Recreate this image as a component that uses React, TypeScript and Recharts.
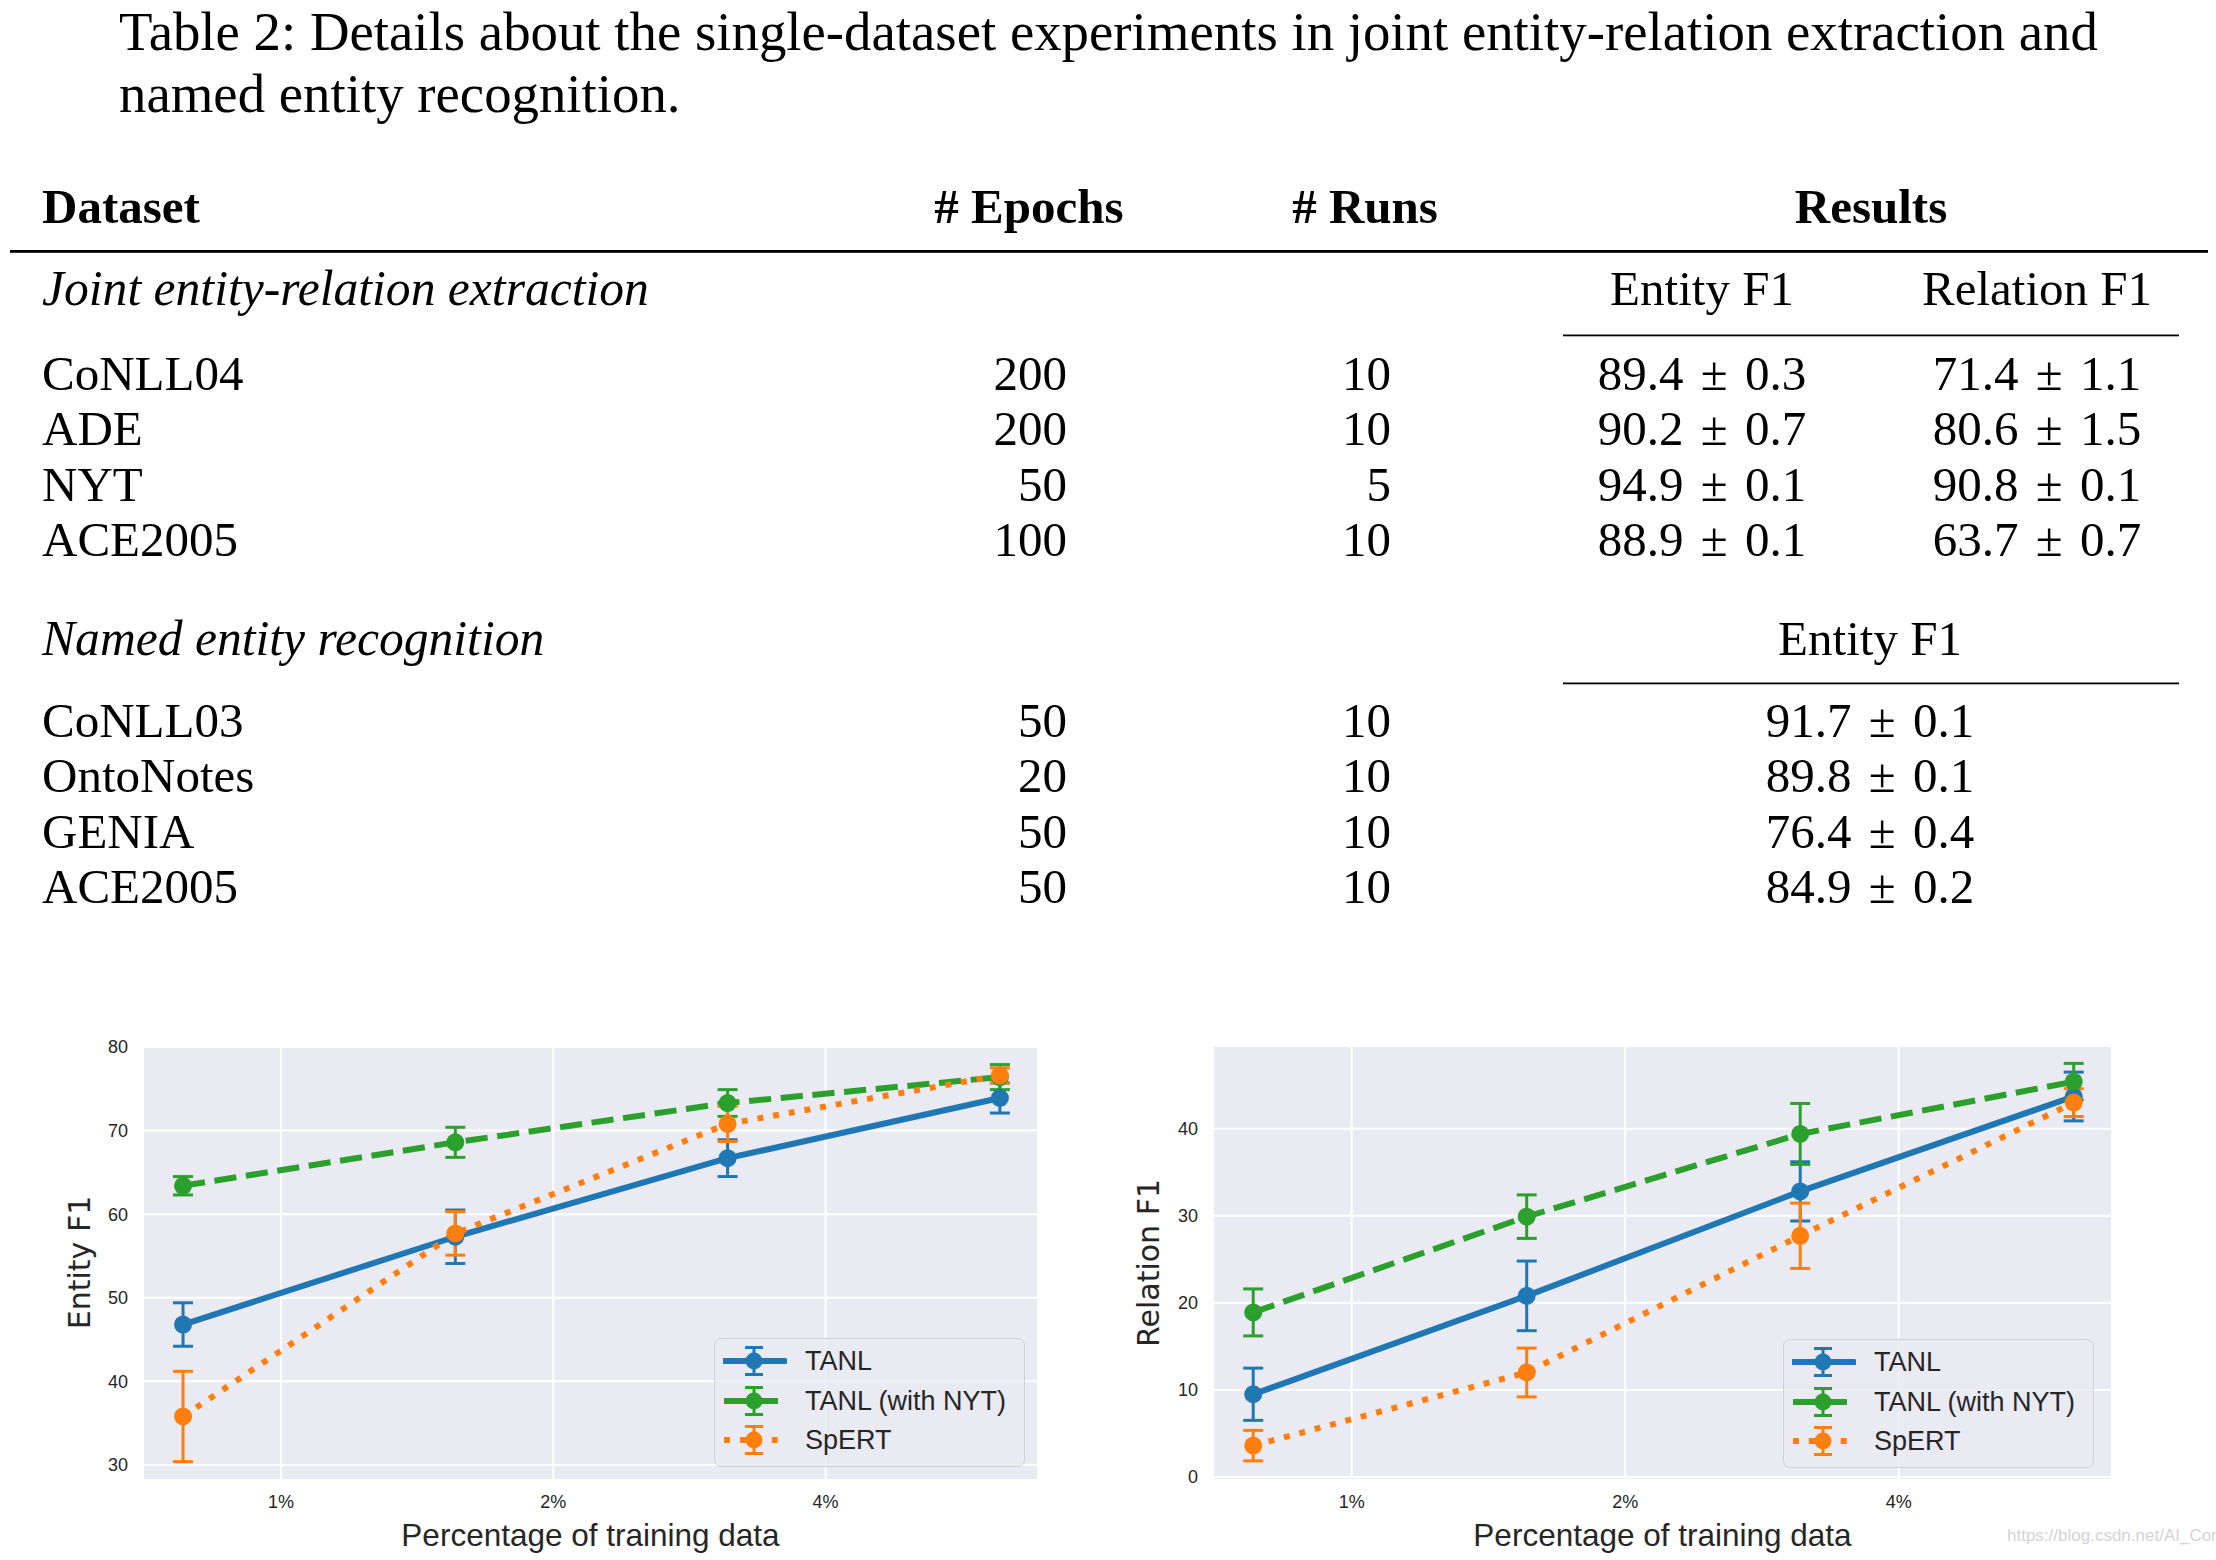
import React from 'react';
import { LineChart, Line, XAxis, YAxis, CartesianGrid, ErrorBar, Legend, Label } from 'recharts';

// ---------- table data ----------
const captionLines = [
  'Table 2: Details about the single-dataset experiments in joint entity-relation extraction and',
  'named entity recognition.',
];
const headerCols = ['Dataset', '# Epochs', '# Runs', 'Results'];
const jointTitle = 'Joint entity-relation extraction';
const jointMetricNames = ['Entity F1', 'Relation F1'];
const jointDatasets = ['CoNLL04', 'ADE', 'NYT', 'ACE2005'];
const jointEpochs = [200, 200, 50, 100];
const jointRuns = [10, 10, 5, 10];
const jointEntityF1 = ['89.4 ± 0.3', '90.2 ± 0.7', '94.9 ± 0.1', '88.9 ± 0.1'];
const jointRelationF1 = ['71.4 ± 1.1', '80.6 ± 1.5', '90.8 ± 0.1', '63.7 ± 0.7'];
const nerTitle = 'Named entity recognition';
const nerMetricName = 'Entity F1';
const nerDatasets = ['CoNLL03', 'OntoNotes', 'GENIA', 'ACE2005'];
const nerEpochs = [50, 20, 50, 50];
const nerRuns = [10, 10, 10, 10];
const nerEntityF1 = ['91.7 ± 0.1', '89.8 ± 0.1', '76.4 ± 0.4', '84.9 ± 0.2'];

// ---------- chart data ----------
const pointIndex = [0, 1, 2, 3];
const xTickPositions = [0.36, 1.36, 2.36];
const xTickLabels = ['1%', '2%', '4%'];

const seriesNames = ['TANL', 'TANL (with NYT)', 'SpERT'];
const seriesKeys = ['tanl', 'nyt', 'spert'];

const entityTanl = [46.8, 57.3, 66.7, 73.9];
const entityTanlErr = [2.6, 3.2, 2.2, 1.8];
const entityNyt = [63.4, 68.6, 73.3, 76.4];
const entityNytErr = [1.1, 1.8, 1.6, 1.5];
const entitySpert = [35.8, 57.7, 70.8, 76.6];
const entitySpertErr = [5.4, 2.6, 2.1, 0.9];
const entityTicks = [30, 40, 50, 60, 70, 80];

const relationTanl = [9.5, 20.8, 32.8, 43.7];
const relationTanlErr = [3.0, 4.0, 3.4, 2.8];
const relationNyt = [18.9, 29.9, 39.4, 45.4];
const relationNytErr = [2.7, 2.5, 3.5, 2.1];
const relationSpert = [3.6, 12.0, 27.7, 43.0];
const relationSpertErr = [1.75, 2.8, 3.75, 1.6];
const relationTicks = [0, 10, 20, 30, 40];

const watermark = 'https://blog.csdn.net/AI_Conf';

// ---------- styles ----------
const COLORS = ['#1f77b4', '#2ca02c', '#ff7f0e'];
const DASHES = [undefined, '22.2 9.6', '6 9.9'];
const TEXT = '#262626';
const SERIF = '"Liberation Serif", "Times New Roman", serif';
const SANS = '"Liberation Sans", Arial, sans-serif';

function buildRows(a: number[], ae: number[], b: number[], be: number[], c: number[], ce: number[]) {
  return pointIndex.map((x, i) => ({
    x,
    tanl: a[i], tanlErr: ae[i],
    nyt: b[i], nytErr: be[i],
    spert: c[i], spertErr: ce[i],
  }));
}

const entityRows = buildRows(entityTanl, entityTanlErr, entityNyt, entityNytErr, entitySpert, entitySpertErr);
const relationRows = buildRows(relationTanl, relationTanlErr, relationNyt, relationNytErr, relationSpert, relationSpertErr);

function LegendBox() {
  return (
    <div
      style={{
        width: 311,
        height: 129,
        boxSizing: 'border-box',
        border: '1.5px solid #cfcfd6',
        borderRadius: 7,
        background: 'rgba(234,234,242,0.8)',
        position: 'relative',
        fontFamily: SANS,
      }}
    >
      {seriesNames.map((name, i) => (
        <div key={name} style={{ position: 'absolute', left: 8, top: 22 + i * 39.5 - 18, height: 36, display: 'flex', alignItems: 'center' }}>
          <svg width={64} height={36} style={{ display: 'block' }}>
            <line x1={1} y1={18} x2={62} y2={18} stroke={COLORS[i]} strokeWidth={6}
              strokeDasharray={DASHES[i]} strokeLinecap={i === 0 ? 'round' : 'butt'} />
            <line x1={31} y1={4.5} x2={31} y2={31.5} stroke={COLORS[i]} strokeWidth={3} />
            <line x1={22} y1={4.5} x2={40} y2={4.5} stroke={COLORS[i]} strokeWidth={3} />
            <line x1={22} y1={31.5} x2={40} y2={31.5} stroke={COLORS[i]} strokeWidth={3} />
            <circle cx={31} cy={18} r={8.5} fill={COLORS[i]} />
          </svg>
          <span style={{ marginLeft: 18, fontSize: 27, color: TEXT, lineHeight: '36px', whiteSpace: 'nowrap' }}>{name}</span>
        </div>
      ))}
    </div>
  );
}

type ChartProps = {
  rows: any[];
  left: number;
  top: number;
  width: number;
  height: number;
  margin: { top: number; right: number; bottom: number; left: number };
  yDomain: [number, number];
  yTicks: number[];
  yLabel: string;
  yLabelX: number;
  legendLeft: number;
  legendTop: number;
};

function ErrorChart(p: ChartProps) {
  return (
    <div style={{ position: 'absolute', left: p.left, top: p.top }}>
      <LineChart width={p.width} height={p.height} data={p.rows} margin={p.margin}>
        <CartesianGrid stroke="#ffffff" strokeWidth={2} fill="#eaeaf2" />
        <XAxis
          type="number"
          dataKey="x"
          domain={[-0.147, 3.14]}
          allowDataOverflow
          ticks={xTickPositions}
          tickFormatter={(v: number) => xTickLabels[xTickPositions.indexOf(v)] ?? ''}
          axisLine={false}
          tickLine={false}
          tickMargin={9}
          height={60}
          tick={{ fontSize: 18, fill: TEXT, fontFamily: SANS }}
        >
          <Label
            content={(props: any) => {
              const vb = props.viewBox;
              return (
                <text x={vb.x + vb.width / 2} y={vb.y + 66} textAnchor="middle" fontSize={31.5}
                  fontFamily={SANS} fill={TEXT}>
                  Percentage of training data
                </text>
              );
            }}
          />
        </XAxis>
        <YAxis
          type="number"
          domain={p.yDomain}
          allowDataOverflow
          ticks={p.yTicks}
          axisLine={false}
          tickLine={false}
          tickMargin={9}
          width={60}
          tick={{ fontSize: 18, fill: TEXT, fontFamily: SANS }}
        >
          <Label
            content={(props: any) => {
              const vb = props.viewBox;
              const cy = vb.y + vb.height / 2;
              return (
                <text x={p.yLabelX} y={cy} textAnchor="middle" dominantBaseline="central" fontSize={30}
                  fontFamily='"DejaVu Sans", sans-serif' fill={TEXT}
                  transform={`rotate(-90 ${p.yLabelX} ${cy})`}>
                  {p.yLabel}
                </text>
              );
            }}
          />
        </YAxis>
        <Legend
          layout="horizontal"
          verticalAlign="middle"
          align="center"
          wrapperStyle={{ position: 'absolute', left: p.legendLeft, top: p.legendTop, width: 'auto', height: 'auto' }}
          content={() => <LegendBox />}
        />
        {seriesKeys.map((k, i) => (
          <Line
            key={k}
            type="linear"
            dataKey={k}
            name={seriesNames[i]}
            stroke={COLORS[i]}
            strokeWidth={6}
            strokeDasharray={DASHES[i]}
            strokeLinecap={i === 0 ? 'round' : 'butt'}
            dot={{ r: 9, fill: COLORS[i], stroke: 'none', strokeWidth: 0 }}
            activeDot={false}
            isAnimationActive={false}
          >
            <ErrorBar dataKey={`${k}Err`} width={10} strokeWidth={3} stroke={COLORS[i]} direction="y" />
          </Line>
        ))}
      </LineChart>
    </div>
  );
}

// value "a ± b" rendered with math-like wider spacing around ±
function PM({ x, y, value }: { x: number; y: number; value: string }) {
  const [a, b] = value.split(' ± ');
  return (
    <text x={x} y={y} textAnchor="middle">
      {a + ' '}
      <tspan dx={5}>±</tspan>
      <tspan dx={5}>{' ' + b}</tspan>
    </text>
  );
}

function Table() {
  const jointBase = 389.5;
  const nerBase = 736.5;
  const step = 55.6;
  return (
    <svg width={2216} height={960} style={{ position: 'absolute', left: 0, top: 0 }}>
      <g fontFamily={SERIF} fill="#000">
        {captionLines.map((t, i) => (
          <text key={i} x={119} y={50 + i * 62} fontSize={54.8}>{t}</text>
        ))}
        <g fontWeight="bold" fontSize={49}>
          <text x={42} y={223}>{headerCols[0]}</text>
          <text x={1029} y={223} textAnchor="middle">{headerCols[1]}</text>
          <text x={1365} y={223} textAnchor="middle">{headerCols[2]}</text>
          <text x={1871} y={223} textAnchor="middle">{headerCols[3]}</text>
        </g>
        <rect x={10} y={250} width={2198} height={2.8} fill="#000" />
        <g fontSize={49}>
          <text x={42} y={305} fontStyle="italic" fontSize={49.6}>{jointTitle}</text>
          <text x={1702} y={305} textAnchor="middle">{jointMetricNames[0]}</text>
          <text x={2037} y={305} textAnchor="middle">{jointMetricNames[1]}</text>
          <rect x={1563} y={334.5} width={616} height={1.8} fill="#000" />
          {jointDatasets.map((d, i) => (
            <g key={d + i}>
              <text x={42} y={jointBase + i * step}>{d}</text>
              <text x={1067} y={jointBase + i * step} textAnchor="end">{jointEpochs[i]}</text>
              <text x={1391} y={jointBase + i * step} textAnchor="end">{jointRuns[i]}</text>
              <PM x={1702} y={jointBase + i * step} value={jointEntityF1[i]} />
              <PM x={2037} y={jointBase + i * step} value={jointRelationF1[i]} />
            </g>
          ))}
          <text x={42} y={655} fontStyle="italic" fontSize={49.6}>{nerTitle}</text>
          <text x={1870} y={655} textAnchor="middle">{nerMetricName}</text>
          <rect x={1563} y={682.5} width={616} height={1.8} fill="#000" />
          {nerDatasets.map((d, i) => (
            <g key={d + i}>
              <text x={42} y={nerBase + i * step}>{d}</text>
              <text x={1067} y={nerBase + i * step} textAnchor="end">{nerEpochs[i]}</text>
              <text x={1391} y={nerBase + i * step} textAnchor="end">{nerRuns[i]}</text>
              <PM x={1870} y={nerBase + i * step} value={nerEntityF1[i]} />
            </g>
          ))}
        </g>
      </g>
    </svg>
  );
}

export default function App() {
  return (
    <div style={{ position: 'absolute', left: 0, top: 0, width: 2216, height: 1560, background: '#ffffff', overflow: 'hidden' }}>
      <Table />
      <ErrorChart
        rows={entityRows}
        left={0}
        top={1000}
        width={1100}
        height={560}
        margin={{ top: 45, right: 62, bottom: 20, left: 83 }}
        yDomain={[28.2, 80.24]}
        yTicks={entityTicks}
        yLabel="Entity F1"
        yLabelX={79}
        legendLeft={714}
        legendTop={338}
      />
      <ErrorChart
        rows={relationRows}
        left={1100}
        top={1000}
        width={1116}
        height={560}
        margin={{ top: 46, right: 104, bottom: 20, left: 53 }}
        yDomain={[-0.35, 49.5]}
        yTicks={relationTicks}
        yLabel="Relation F1"
        yLabelX={48}
        legendLeft={683}
        legendTop={339}
      />
      <div style={{ position: 'absolute', left: 2007, top: 1526, fontFamily: SANS, fontSize: 17, color: '#d4d4d4', whiteSpace: 'nowrap' }}>
        {watermark}
      </div>
    </div>
  );
}
